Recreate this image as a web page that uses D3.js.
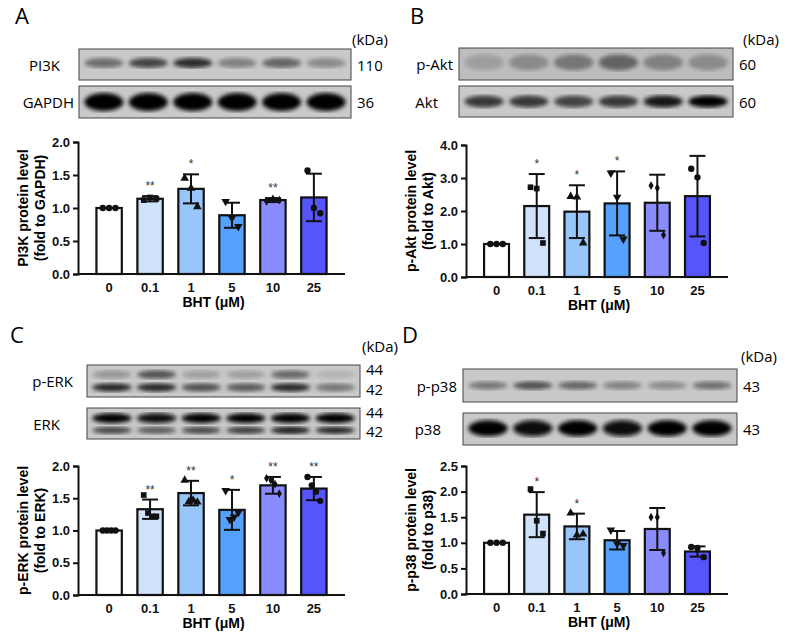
<!DOCTYPE html>
<html><head><meta charset="utf-8">
<script src="https://cdn.jsdelivr.net/npm/d3@7"></script>
<style>body{margin:0;background:#fff}svg{display:block}</style>
</head><body>
<svg id="c" width="790" height="642"></svg>
<script>
const categories = ["0","0.1","1","5","10","25"];
const colors = ["#ffffff","#cfe2f9","#99c6fa","#55a1fb","#8a8cfd","#5654fb"];
const shapes = ["circle","square","triangle","tri-down","diamond","circle"];

const pi3kMean = [1.0,1.14,1.29,0.89,1.12,1.16];
const pi3kSD   = [0,0.04,0.22,0.19,0.03,0.36];
const pi3kPts  = [[1,1,1],[1.12,1.16,1.14],[1.45,1.3,1.02],[1.1,0.85,0.72],[1.1,1.14,1.12],[1.57,1.0,0.92]];
const pi3kSig  = ["","**","*","","**",""];

const aktMean = [1.0,2.15,1.98,2.23,2.25,2.45];
const aktSD   = [0,0.97,0.8,0.97,0.85,1.22];
const aktPts  = [[1,1,1],[2.72,2.68,1.03],[2.44,2.42,1.03],[3.15,2.42,1.15],[2.77,2.7,1.27],[3.28,3.02,1.03]];
const aktSig  = ["","*","*","*","",""];

const erkMean = [1.0,1.33,1.58,1.32,1.70,1.65];
const erkSD   = [0,0.15,0.19,0.31,0.13,0.18];
const erkPts  = [[1,1,1,1],[1.55,1.27,1.22,1.22],[1.78,1.45,1.47,1.44],[1.62,1.17,1.21,1.28],[1.81,1.78,1.72,1.57],[1.83,1.70,1.6,1.46]];
const erkSig  = ["","**","**","*","**","**"];

const p38Mean = [1.0,1.55,1.32,1.05,1.27,0.83];
const p38SD   = [0,0.44,0.25,0.18,0.41,0.1];
const p38Pts  = [[1,1,1],[2.05,1.43,1.18],[1.58,1.15,1.17],[1.25,0.98,0.95],[1.5,1.5,0.8],[0.92,0.9,0.72]];
const p38Sig  = ["","*","*","","",""];

// band intensities (0..1) per lane
const bandPI3K=[0.5,0.7,0.8,0.4,0.55,0.35], bandGAPDH=[1,1,1,1,1,1];
const bandPAkt=[0.25,0.35,0.45,0.55,0.4,0.35], bandAkt=[0.75,0.75,0.7,0.75,0.9,1];
const bandPERK44=[0.3,0.65,0.25,0.25,0.55,0.15], bandPERK42=[0.85,0.85,0.65,0.6,0.85,0.45];
const bandERK44=[1,0.95,1,1,1,1], bandERK42=[0.7,0.6,0.7,0.75,0.9,0.85];
const bandPp38=[0.45,0.65,0.55,0.4,0.35,0.5], bandP38=[1,0.95,1,0.95,1,1];

const svg=d3.select("#c");
const defs=svg.append("defs");
defs.append("filter").attr("id","blur").append("feGaussianBlur").attr("stdDeviation",2.2);
const txtFont="'Open Sans', 'DejaVu Sans', sans-serif";
const axFont="'Liberation Sans', Arial, sans-serif";

function panelLetter(x,y,t){svg.append("text").attr("x",x).attr("y",y).attr("font-family",txtFont).attr("font-size",22).text(t);}

function blot(x0,x1,y0,y1,label,bands,labelRight,kdas,bg){
  const g=svg.append("g");
  g.append("rect").attr("x",x0).attr("y",y0).attr("width",x1-x0).attr("height",y1-y0).attr("fill",bg||"#c9c9c9").attr("stroke","#444").attr("stroke-width",1);
  const lane=d3.scaleBand().domain(categories).range([x0,x1]).padding(0.12);
  const clipId="cl"+Math.round(x0)+"_"+Math.round(y0);
  defs.append("clipPath").attr("id",clipId).append("rect").attr("x",x0).attr("y",y0).attr("width",x1-x0).attr("height",y1-y0);
  const bg2=g.append("g").attr("clip-path",`url(#${clipId})`);
  bands.forEach(b=>{
    bg2.selectAll(null).data(b.v).enter().append("ellipse")
      .attr("cx",(d,i)=>lane(categories[i])+lane.bandwidth()/2)
      .attr("cy",y0+(y1-y0)*b.pos)
      .attr("rx",lane.bandwidth()/2)
      .attr("ry",b.h)
      .attr("fill",d=>d3.interpolateGreys(0.3+0.7*d))
      .attr("filter","url(#blur)");
  });
  if(labelRight!=null) svg.append("text").attr("x",labelRight).attr("y",(y0+y1)/2+6).attr("text-anchor","end").attr("font-family",txtFont).attr("font-size",15).text(label);
  kdas.forEach(k=>svg.append("text").attr("x",x1+6).attr("y",y0+(y1-y0)*k[1]+6).attr("font-family",txtFont).attr("font-size",15).text(k[0]));
}

function symbolPath(s){
  const map={circle:d3.symbolCircle,square:d3.symbolSquare,triangle:d3.symbolTriangle,"tri-down":d3.symbolTriangle,diamond:d3.symbolDiamond};
  return d3.symbol().type(map[s]).size(s==="diamond"?22:32)();
}

function chart(o){
  const g=svg.append("g");
  const y=d3.scaleLinear().domain([0,o.max]).range([o.y0,o.y1]);
  const x=d3.scaleBand().domain(categories).range([o.x0,o.x1]).paddingInner(0.38).paddingOuter(0.45);
  const bw=x.bandwidth();
  g.selectAll(".bar").data(o.mean).enter().append("rect")
    .attr("x",(d,i)=>x(categories[i])).attr("y",d=>y(d)).attr("width",bw).attr("height",d=>y(0)-y(d))
    .attr("fill",(d,i)=>colors[i]).attr("stroke","#111").attr("stroke-width",2.2);
  o.pts.forEach((arr,i)=>{
    const n=arr.length, cx=x(categories[i])+bw/2;
    arr.forEach((v,j)=>{
      const off=(j-(n-1)/2)*(bw*0.5/(n-1));
      g.append("path").attr("d",symbolPath(shapes[i]))
        .attr("transform",`translate(${cx+off},${y(v)})${shapes[i]==="tri-down"?" rotate(180)":""}`)
        .attr("fill","#111");
    });
  });
  o.mean.forEach((m,i)=>{
    const sd=o.sd[i]; if(!sd) return;
    const cx=x(categories[i])+bw/2;
    g.append("line").attr("x1",cx).attr("x2",cx).attr("y1",y(m+sd)).attr("y2",y(m-sd)).attr("stroke","#111").attr("stroke-width",2);
    [m+sd,m-sd].forEach(v=>g.append("line").attr("x1",cx-8).attr("x2",cx+8).attr("y1",y(v)).attr("y2",y(v)).attr("stroke","#111").attr("stroke-width",2));
    if(o.sig[i]) g.append("text").attr("x",cx).attr("y",y(m+sd)-6).attr("text-anchor","middle").attr("font-family",axFont).attr("font-size",12).attr("fill","#333").text(o.sig[i]);
  });
  const ya=g.append("g").attr("transform",`translate(${o.x0},0)`).call(d3.axisLeft(y).tickValues(o.ticks).tickFormat(d3.format(".1f")).tickSize(5));
  const xa=g.append("g").attr("transform",`translate(0,${o.y0})`).call(d3.axisBottom(x).tickSize(0).tickPadding(9));
  [ya,xa].forEach(a=>{a.selectAll("path,line").attr("stroke","#111").attr("stroke-width",2);
    a.selectAll("text").attr("font-family",axFont).attr("font-weight","bold").attr("font-size",13).attr("fill","#111");});
  xa.select(".domain").attr("d",`M${o.x0},0H${o.x1}`);
  g.append("text").attr("x",(o.x0+o.x1)/2+2).attr("y",o.y0+33).attr("text-anchor","middle").attr("font-family",axFont).attr("font-weight","bold").attr("font-size",14).text("BHT (μM)");
  const ylab=g.append("text").attr("transform",`translate(${o.x0-50},${(o.y0+o.y1)/2}) rotate(-90)`).attr("text-anchor","middle").attr("font-family",axFont).attr("font-weight","bold").attr("font-size",14);
  ylab.append("tspan").attr("x",0).attr("dy",0).text(o.l1);
  ylab.append("tspan").attr("x",0).attr("dy",17).text(o.l2);
}

panelLetter(15,24,"A");
svg.append("text").attr("x",352).attr("y",45).attr("font-family",txtFont).attr("font-size",15).text("(kDa)");
blot(79,351,49,80,"PI3K",[{pos:0.45,h:5,v:bandPI3K}],60,[["110",0.5]]);
blot(79,351,86,118,"GAPDH",[{pos:0.5,h:9,v:bandGAPDH}],74,[["36",0.5]]);
chart({x0:78,x1:345,y0:274,y1:142,max:2,ticks:[0,0.5,1,1.5,2],mean:pi3kMean,sd:pi3kSD,pts:pi3kPts,sig:pi3kSig,l1:"PI3K protein level",l2:"(fold to GAPDH)"});

panelLetter(410,24,"B");
svg.append("text").attr("x",743).attr("y",45).attr("font-family",txtFont).attr("font-size",15).text("(kDa)");
blot(459,733,48,80,"p-Akt",[{pos:0.45,h:8,v:bandPAkt}],453,[["60",0.5]],"#bdbdbd");
blot(459,733,86,117,"Akt",[{pos:0.5,h:6,v:bandAkt}],438,[["60",0.5]]);
chart({x0:466,x1:728,y0:277,y1:145,max:4,ticks:[0,1,2,3,4],mean:aktMean,sd:aktSD,pts:aktPts,sig:aktSig,l1:"p-Akt protein level",l2:"(fold to Akt)"});

panelLetter(10,343,"C");
svg.append("text").attr("x",362).attr("y",352).attr("font-family",txtFont).attr("font-size",15).text("(kDa)");
blot(87,360,365,397,"p-ERK",[{pos:0.3,h:4,v:bandPERK44},{pos:0.7,h:4,v:bandPERK42}],73,[["44",0.12],["42",0.75]]);
blot(87,360,408,439,"ERK",[{pos:0.33,h:5,v:bandERK44},{pos:0.72,h:3.5,v:bandERK42}],60,[["44",0.12],["42",0.75]]);
chart({x0:78,x1:345,y0:595,y1:466,max:2,ticks:[0,0.5,1,1.5,2],mean:erkMean,sd:erkSD,pts:erkPts,sig:erkSig,l1:"p-ERK protein level",l2:"(fold to ERK)"});

panelLetter(402,343,"D");
svg.append("text").attr("x",741).attr("y",362).attr("font-family",txtFont).attr("font-size",15).text("(kDa)");
blot(463,737,369,402,"p-p38",[{pos:0.5,h:4,v:bandPp38}],457,[["43",0.5]]);
blot(463,737,413,445,"p38",[{pos:0.48,h:8,v:bandP38}],441,[["43",0.5]]);
chart({x0:466,x1:728,y0:594,y1:466,max:2.5,ticks:[0,0.5,1,1.5,2,2.5],mean:p38Mean,sd:p38SD,pts:p38Pts,sig:p38Sig,l1:"p-p38 protein level",l2:"(fold to p38)"});
</script>
</body></html>
